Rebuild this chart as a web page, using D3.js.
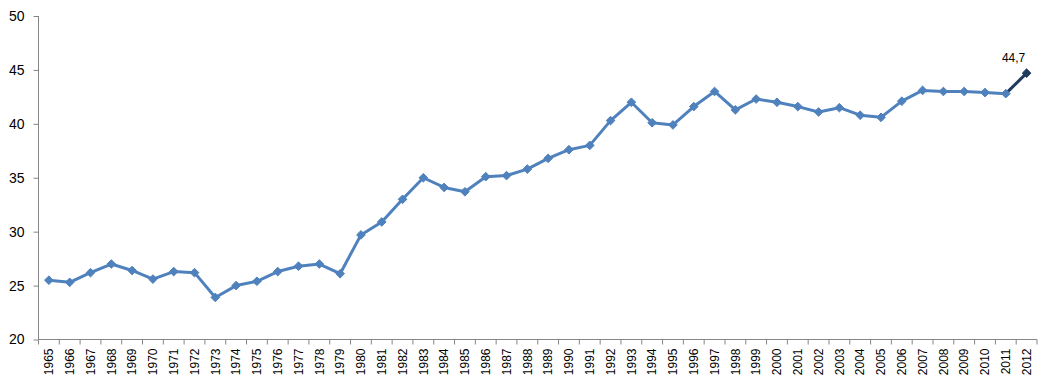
<!DOCTYPE html>
<html>
<head>
<meta charset="utf-8">
<script src="https://cdn.jsdelivr.net/npm/d3@7"></script>
<style>
  body { margin: 0; background: #fff; }
  svg { display: block; }
</style>
</head>
<body>
<svg id="chart" width="1051" height="386"></svg>
<script>
const years = [1965,1966,1967,1968,1969,1970,1971,1972,1973,1974,1975,1976,1977,1978,1979,
  1980,1981,1982,1983,1984,1985,1986,1987,1988,1989,1990,1991,1992,1993,1994,1995,1996,1997,
  1998,1999,2000,2001,2002,2003,2004,2005,2006,2007,2008,2009,2010,2011,2012];
const values = [25.5,25.3,26.2,27.0,26.4,25.6,26.3,26.2,23.9,25.0,25.4,26.3,26.8,27.0,26.1,
  29.7,30.9,33.0,35.0,34.1,33.7,35.1,35.2,35.8,36.8,37.6,38.0,40.3,42.0,40.1,39.9,41.6,43.0,
  41.3,42.3,42.0,41.6,41.1,41.5,40.8,40.6,42.1,43.1,43.0,43.0,42.9,42.8,44.7];
const yTicks = [20,25,30,35,40,45,50];
const lastLabel = "44,7";

(function () {
const svg = d3.select("#chart");
const mLeft = 38.5, mRight = 1037, mTop = 16, mBottom = 339.5;

const x = d3.scaleBand().domain(years).range([mLeft, mRight]).padding(0);
const y = d3.scaleLinear().domain([20, 50]).range([mBottom, mTop]);
const cx = d => x(d) + x.bandwidth() / 2;

const axisColor = "#868686";

// Y axis
const yAxis = d3.axisLeft(y).tickValues(yTicks).tickSize(5).tickPadding(9);
const gy = svg.append("g").attr("transform", `translate(${mLeft},0)`).call(yAxis);
gy.select(".domain").attr("stroke", axisColor).attr("d", `M0,${mTop}V${mBottom}`);
gy.selectAll(".tick line").attr("stroke", axisColor);
gy.selectAll(".tick text")
  .attr("font-family", "'Liberation Sans', Arial, sans-serif")
  .attr("font-size", "14px").attr("fill", "#000");

// X axis
const xAxis = d3.axisBottom(x).tickSize(0).tickPadding(0);
const gx = svg.append("g").attr("transform", `translate(0,${mBottom})`).call(xAxis);
gx.select(".domain").attr("stroke", axisColor).attr("d", `M${mLeft},0H${mRight}`);
gx.selectAll(".tick line").remove();
gx.selectAll(".tick text")
  .attr("font-family", "'Liberation Sans', Arial, sans-serif")
  .attr("font-size", "12px").attr("fill", "#000")
  .attr("transform", "rotate(-90)")
  .attr("text-anchor", "end")
  .attr("x", -9).attr("y", 0).attr("dy", "0.35em");
// tick marks at category boundaries
const bounds = years.map(d => x(d)).concat([mRight]);
gx.selectAll("line.bt").data(bounds).enter().append("line")
  .attr("class", "bt")
  .attr("x1", d => d).attr("x2", d => d)
  .attr("y1", 0).attr("y2", 5)
  .attr("stroke", axisColor);

// Line
const data = years.map((d, i) => ({ year: d, value: values[i] }));
const main = data.slice(0, data.length - 1);
const lastSeg = data.slice(data.length - 2);
const lineGen = d3.line().x(d => cx(d.year)).y(d => y(d.value));

const blue = "#4F81BD";
const navy = "#1F3A5F";

svg.append("path").datum(main).attr("d", lineGen)
  .attr("fill", "none").attr("stroke", blue).attr("stroke-width", 3)
  .attr("stroke-linejoin", "round");
svg.append("path").datum(lastSeg).attr("d", lineGen)
  .attr("fill", "none").attr("stroke", navy).attr("stroke-width", 3);

const diamond = d3.symbol().type(d3.symbolDiamond2).size(48);
svg.selectAll("path.mk").data(data).enter().append("path")
  .attr("class", "mk")
  .attr("d", diamond)
  .attr("transform", d => `translate(${cx(d.year)},${y(d.value)})`)
  .attr("fill", (d, i) => i === data.length - 1 ? navy : blue)
  .attr("stroke", (d, i) => i === data.length - 1 ? navy : blue)
  .attr("stroke-width", 1);

// Data label
const last = data[data.length - 1];
svg.append("text")
  .attr("x", cx(last.year) - 13)
  .attr("y", y(last.value) - 11)
  .attr("text-anchor", "middle")
  .attr("font-family", "'Liberation Sans', Arial, sans-serif")
  .attr("font-size", "12px")
  .attr("fill", "#000")
  .text(lastLabel);
})();
</script>
</body>
</html>
